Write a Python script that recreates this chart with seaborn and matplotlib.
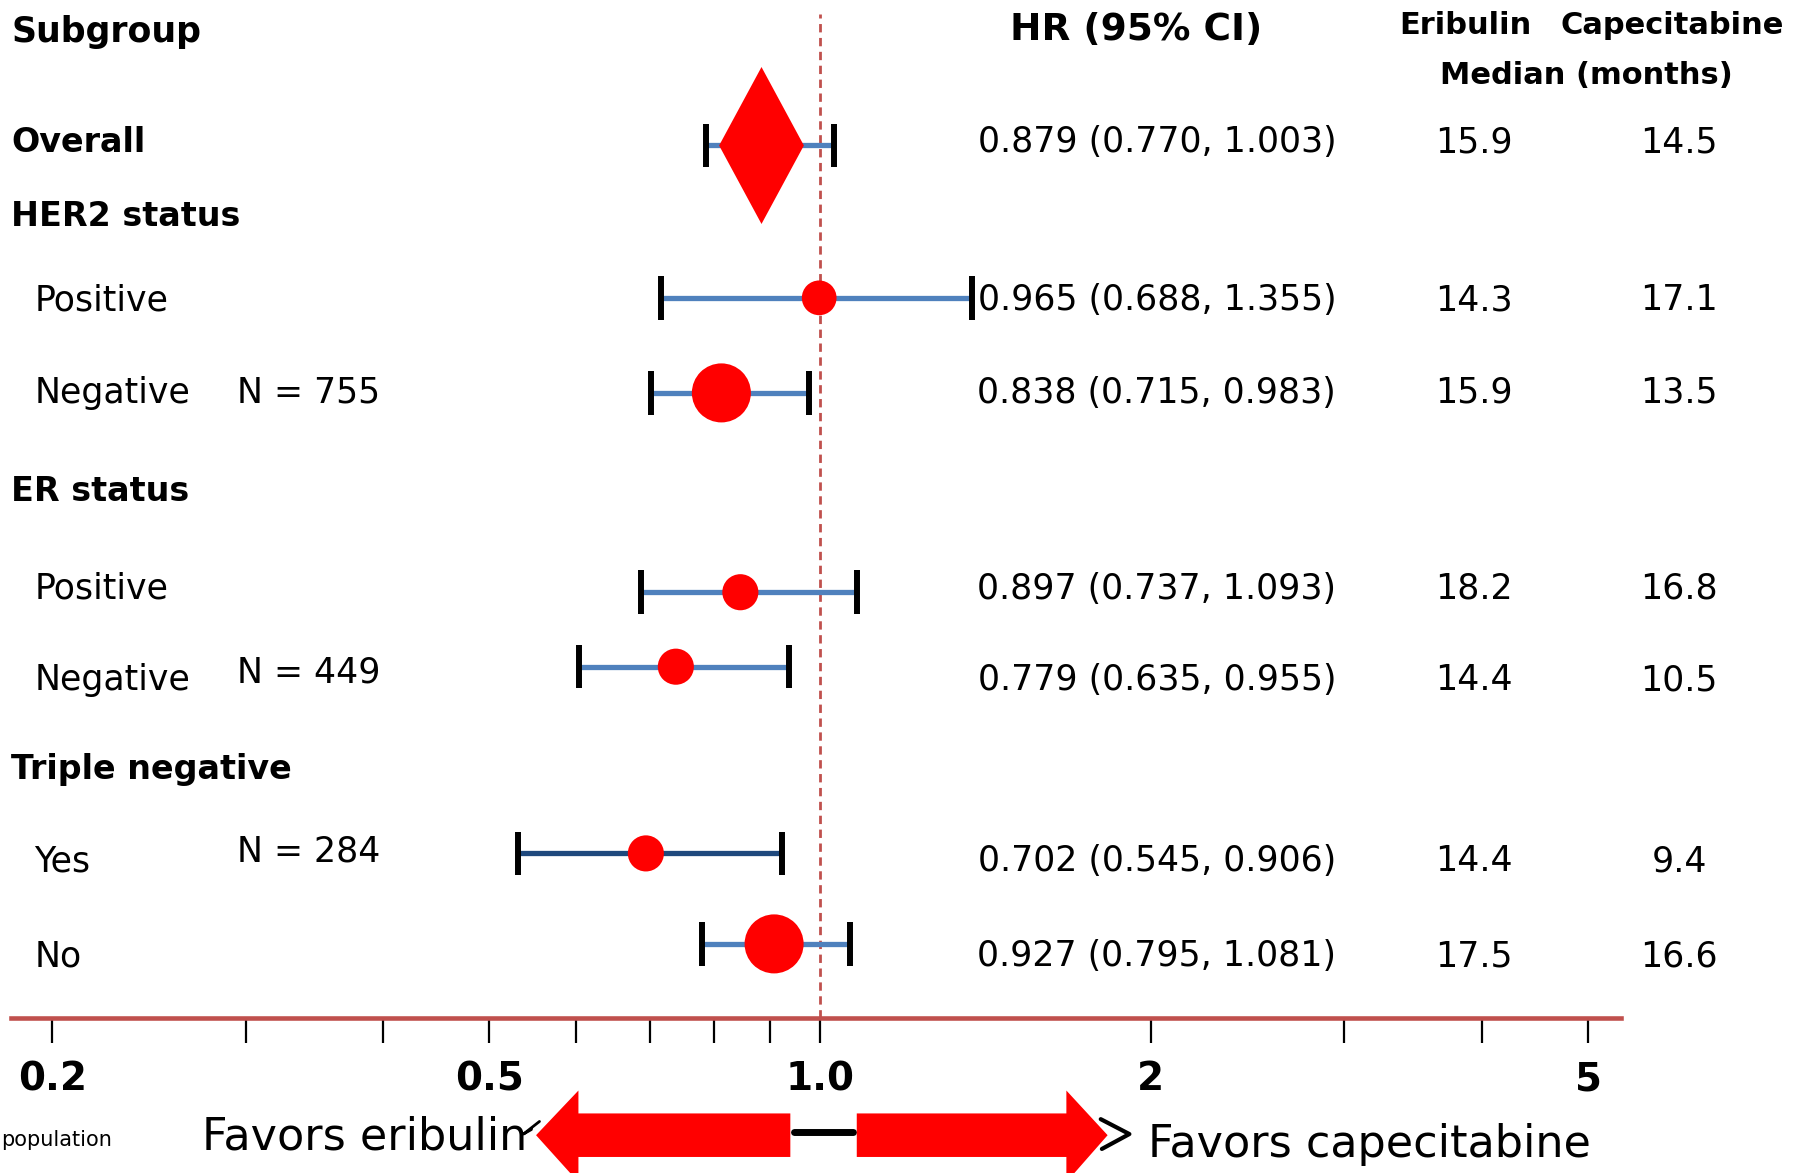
import numpy as np
import pandas as pd
import matplotlib
matplotlib.use("Agg")
import matplotlib.pyplot as plt
import seaborn as sns
from matplotlib.transforms import Affine2D
from matplotlib.patches import Polygon
from matplotlib.path import Path
from matplotlib.ticker import FixedLocator, FixedFormatter, NullLocator

# ---------------- data ----------------
group_headers = ["HER2 status", "ER status", "Triple negative"]
subgroups = ["Overall", "Positive", "Negative", "Positive", "Negative", "Yes", "No"]
# HR and 95% CI as printed in the table column
hr_text = ["0.879 (0.770, 1.003)", "0.965 (0.688, 1.355)", "0.838 (0.715, 0.983)",
           "0.897 (0.737, 1.093)", "0.779 (0.635, 0.955)", "0.702 (0.545, 0.906)",
           "0.927 (0.795, 1.081)"]
# HR and CI limits as drawn in the reference forest plot
hr_marker = [0.884, 0.998, 0.813, 0.846, 0.739, 0.694, 0.908]
ci_low_marker = [0.788, 0.716, 0.702, 0.687, 0.603, 0.531, 0.781]
ci_high_marker = [1.030, 1.374, 0.976, 1.080, 0.936, 0.923, 1.065]
median_eribulin = ["15.9", "14.3", "15.9", "18.2", "14.4", "14.4", "17.5"]
median_capecitabine = ["14.5", "17.1", "13.5", "16.8", "10.5", "9.4", "16.6"]
n_labels = ["", "", "N = 755", "", "N = 449", "N = 284", ""]
tick_values = [0.2, 0.3, 0.4, 0.5, 0.6, 0.7, 0.8, 0.9, 1.0, 2, 3, 4, 5]
tick_labels = ["0.2", "", "", "0.5", "", "", "", "", "1.0", "2", "", "", "5"]

# ---------------- layout (reference pixel grid 1568 x 1024, y down) ----------------
W, H = 1568, 1024
row_text_y = [124, 262, 343, 514, 594, 752, 835]
row_mark_y = [127, 260, 343, 517, 582, 745, 824]
n_label_y = [0, 0, 343, 0, 587, 743, 0]
header_y = [189, 429, 672]
dot_size_pt = [0, 25, 42.5, 26, 26, 26, 42.5]
line_colors = ["#4F81BD"] * 5 + ["#1F497D", "#4F81BD"]
subgroup_bold = [True, False, False, False, False, False, False]
subgroup_x = [10, 30, 30, 30, 30, 30, 30]

sns.set_theme(style="white")
plt.rcParams["font.family"] = ["DejaVu Sans"]
plt.rcParams["text.color"] = "black"
plt.rcParams["xtick.color"] = "black"

fig = plt.figure(figsize=(17.96, 11.73), dpi=100)
px = Affine2D().scale(1.0 / W, -1.0 / H).translate(0, 1) + fig.transFigure

ax_left, ax_right, ax_bottom = 10, 1415, 889
ax = fig.add_axes([ax_left / W, (H - ax_bottom) / H, (ax_right - ax_left) / W, ax_bottom / H])
ax.set_xscale("log")
ax.set_xlim(0.1836, 5.355)
ax.set_ylim(ax_bottom, 0)
ax.set_facecolor("none")
for s in ["top", "left", "right"]:
    ax.spines[s].set_visible(False)
ax.spines["bottom"].set_color("#C0504D")
ax.spines["bottom"].set_linewidth(3.3)
ax.xaxis.set_major_locator(FixedLocator(tick_values))
ax.xaxis.set_major_formatter(FixedFormatter(tick_labels))
ax.xaxis.set_minor_locator(NullLocator())
ax.tick_params(axis="x", which="major", direction="out", length=18, width=1.6,
               color="black", labelcolor="black", pad=12, labelsize=28, bottom=True)
for lab in ax.get_xticklabels():
    lab.set_fontweight("bold")
ax.set_yticks([])

# reference line at HR = 1
ax.axvline(1.0, ymin=0, ymax=(ax_bottom - 12) / ax_bottom, color="#C0504D",
           lw=2.0, ls=(0, (3, 2)), zorder=1)

# CI lines and caps
for i in range(len(hr_marker)):
    y = row_mark_y[i]
    ax.hlines(y, ci_low_marker[i], ci_high_marker[i], color=line_colors[i], lw=3.8, zorder=2)
    ax.vlines([ci_low_marker[i], ci_high_marker[i]], y - 19, y + 19, color="black",
              lw=4.3, zorder=3)

# overall diamond
diamond = Path([(0, 1), (0.54, 0), (0, -1), (-0.54, 0), (0, 1)],
               [Path.MOVETO, Path.LINETO, Path.LINETO, Path.LINETO, Path.CLOSEPOLY])
ax.scatter([hr_marker[0]], [row_mark_y[0]], marker=diamond, s=113 ** 2, color="#FF0000",
           linewidths=0, zorder=4)

# subgroup dots
df = pd.DataFrame({"hr": hr_marker[1:], "y": row_mark_y[1:]})
sns.scatterplot(data=df, x="hr", y="y", ax=ax, color="#FF0000",
                s=np.array(dot_size_pt[1:]) ** 2, edgecolor="none", linewidth=0,
                zorder=5, legend=False)
ax.set_xlabel("")
ax.set_ylabel("")
ax.set_ylim(ax_bottom, 0)

# ---------------- text ----------------
def t(x, y, s, **kw):
    fig.text(x, y, s, transform=px, color="black", **kw)

t(10, 28, "Subgroup", fontsize=25, fontweight="bold", va="center", ha="left")
t(992, 26, "HR (95% CI)", fontsize=27, fontweight="bold", va="center", ha="center")
t(1279, 22, "Eribulin", fontsize=22, fontweight="bold", va="center", ha="center")
t(1460, 22, "Capecitabine", fontsize=22, fontweight="bold", va="center", ha="center")
t(1385, 66, "Median (months)", fontsize=22, fontweight="bold", va="center", ha="center")

for name, y in zip(group_headers, header_y):
    t(10, y, name, fontsize=24, fontweight="bold", va="center", ha="left")

for i in range(len(subgroups)):
    y = row_text_y[i]
    t(subgroup_x[i], y, subgroups[i], fontsize=24 if subgroup_bold[i] else 25,
      fontweight="bold" if subgroup_bold[i] else "normal", va="center", ha="left")
    if n_labels[i]:
        t(207, n_label_y[i], n_labels[i], fontsize=25, va="center", ha="left")
    t(1010, y, hr_text[i], fontsize=25, va="center", ha="center")
    t(1287, y, median_eribulin[i], fontsize=25, va="center", ha="center")
    t(1466, y, median_capecitabine[i], fontsize=25, va="center", ha="center")

# bottom annotations
t(1, 995, "population", fontsize=15, va="center", ha="left")
t(176, 993, "Favors eribulin", fontsize=32, va="center", ha="left")
t(1002, 999, "Favors capecitabine", fontsize=32, va="center", ha="left")

left_arrow = Polygon([(690, 972), (505, 972), (505, 952), (468, 991), (505, 1032),
                      (505, 1010), (690, 1010)], closed=True, transform=px,
                     facecolor="#FF0000", edgecolor="none", clip_on=False, zorder=3)
right_arrow = Polygon([(748, 972), (931, 972), (931, 952), (967, 991), (931, 1032),
                       (931, 1010), (748, 1010)], closed=True, transform=px,
                      facecolor="#FF0000", edgecolor="none", clip_on=False, zorder=3)
fig.add_artist(left_arrow)
fig.add_artist(right_arrow)
fig.add_artist(plt.Line2D([693, 745], [988, 988], transform=px, color="black", lw=5))
fig.add_artist(plt.Line2D([961, 986, 962], [977, 990, 1003], transform=px,
                          color="black", lw=3))
fig.add_artist(plt.Line2D([471, 457, 464], [979, 990, 986], transform=px,
                          color="black", lw=2))

fig.savefig("out.png", dpi=100)
